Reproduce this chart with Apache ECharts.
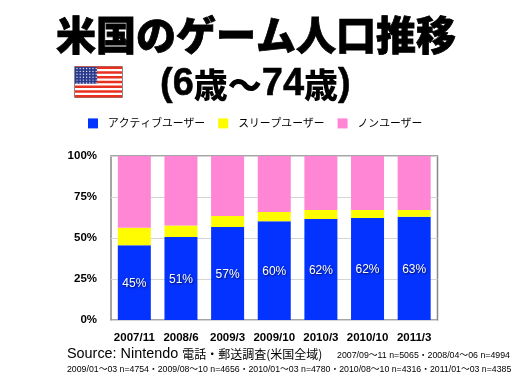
<!DOCTYPE html>
<html>
<head>
<meta charset="utf-8">
<style>
  html, body { margin: 0; padding: 0; background: #fff; }
  #main { width: 512px; height: 384px; }
</style>
<script src="https://cdn.jsdelivr.net/npm/echarts@6/dist/echarts.min.js"></script>
</head>
<body>
<div id="main"></div>
<script>
const categories = ["2007/11", "2008/6", "2009/3", "2009/10", "2010/3", "2010/10", "2011/3"];
const active = [45.6, 50.6, 56.7, 60.2, 61.6, 62.2, 63];
const sleep = [10.7, 7, 6.7, 5.6, 5.4, 4.8, 4];
const non = [43.7, 42.4, 36.6, 34.2, 33, 33, 33];
const activeLabels = ["45%", "51%", "57%", "60%", "62%", "62%", "63%"];
const yTicks = [0, 25, 50, 75, 100];

const jp = '"Noto Sans CJK JP", sans-serif';
const latin = '"Liberation Sans", "Noto Sans CJK JP", sans-serif';

// 星条旗
function flag(x, y, w, h) {
  const parts = [{ type: "rect", shape: { x: x, y: y, width: w, height: h }, style: { fill: "#fff", stroke: "#888", lineWidth: 1 } }];
  const sh = h / 13;
  for (let i = 0; i < 13; i += 2) {
    parts.push({ type: "rect", shape: { x: x + 0.5, y: y + i * sh, width: w - 1, height: sh }, style: { fill: "#e8311f" } });
  }
  const cw = w * 0.46, ch = sh * 7;
  parts.push({ type: "rect", shape: { x: x + 0.5, y: y + 0.5, width: cw, height: ch }, style: { fill: "#2a3a8c" } });
  for (let r = 0; r < 6; r++) {
    for (let c = 0; c < 7; c++) {
      parts.push({ type: "circle", shape: { cx: x + 2.5 + c * 3.2, cy: y + 2 + r * 2.9, r: 0.7 }, style: { fill: "#dfe3f5" } });
    }
  }
  return parts;
}

const myChart = echarts.init(document.getElementById("main"));
const option = {
  animation: false,
  backgroundColor: "#fff",
  textStyle: { fontFamily: latin },
  title: [
    { text: "米国のゲーム人口推移", left: "center", top: 10, textStyle: { fontFamily: jp, fontWeight: 900, fontSize: 40, color: "#000", textBorderColor: "#000", textBorderWidth: 0.8 } },
    {
      text: "{a|(6}{b|歳〜}{a|74}{b|歳}{a|)}",
      left: 155,
      top: 61,
      textStyle: {
        rich: {
          a: { fontFamily: latin, fontWeight: "bold", fontSize: 38, color: "#000", textBorderColor: "#000", textBorderWidth: 0.5 },
          b: { fontFamily: jp, fontWeight: 900, fontSize: 34, color: "#000" }
        }
      }
    },
    {
      text: "{a|Source: Nintendo }{b|電話・郵送調査(米国全域)}",
      left: 62,
      top: 342,
      textStyle: {
        fontWeight: "normal",
        rich: {
          a: { fontFamily: latin, fontWeight: "normal", fontSize: 14.4, color: "#000" },
          b: { fontFamily: jp, fontWeight: "normal", fontSize: 12, color: "#000" }
        }
      }
    },
    { text: "2007/09〜11 n=5065・2008/04〜06 n=4994", left: 332, top: 346, textStyle: { fontFamily: latin, fontWeight: "normal", fontSize: 8.8, color: "#000" } },
    { text: "2009/01〜03 n=4754・2009/08〜10 n=4656・2010/01〜03 n=4780・2010/08〜10 n=4316・2011/01〜03 n=4385", left: 62, top: 360, textStyle: { fontFamily: latin, fontWeight: "normal", fontSize: 8.75, color: "#000" } }
  ],
  legend: {
    left: 83,
    top: 113,
    itemWidth: 10,
    itemHeight: 10,
    itemGap: 13,
    icon: "rect",
    textStyle: { fontFamily: jp, fontSize: 10.8, color: "#000", padding: [0, 0, 0, 5] },
    data: ["アクティブユーザー", "スリープユーザー", "ノンユーザー"]
  },
  grid: { left: 111, right: 74.5, top: 156, bottom: 64, show: true, borderColor: "#888", borderWidth: 1.5, backgroundColor: "#fff" },
  xAxis: {
    type: "category",
    data: categories,
    axisLine: { show: false },
    axisTick: { show: false },
    axisLabel: { color: "#000", fontWeight: "bold", fontSize: 11.5, margin: 12, interval: 0 }
  },
  yAxis: {
    type: "value",
    min: 0,
    max: 100,
    interval: 25,
    axisLine: { show: false },
    axisTick: { show: false },
    axisLabel: { color: "#000", fontWeight: "bold", fontSize: 11.5, margin: 14, formatter: function (v) { return yTicks.includes(v) ? v + "%" : ""; } },
    splitLine: { show: true, lineStyle: { color: "#d4d4d4", width: 1 } }
  },
  series: [
    {
      name: "アクティブユーザー",
      type: "bar",
      stack: "total",
      barWidth: 33,
      data: active,
      itemStyle: { color: "#0433ff" },
      label: {
        show: true,
        position: "inside",
        offset: [0, 1],
        color: "#fff",
        fontSize: 12,
        textShadowColor: "rgba(0,0,0,0.7)",
        textShadowBlur: 2,
        textShadowOffsetX: 1,
        textShadowOffsetY: 1,
        formatter: function (p) { return activeLabels[p.dataIndex]; }
      }
    },
    { name: "スリープユーザー", type: "bar", stack: "total", barWidth: 33, data: sleep, itemStyle: { color: "#fffb00" } },
    { name: "ノンユーザー", type: "bar", stack: "total", barWidth: 33, data: non, itemStyle: { color: "#ff85d5" } }
  ],
  graphic: flag(74.5, 66.5, 48, 31)
};
myChart.setOption(option);
</script>
</body>
</html>
